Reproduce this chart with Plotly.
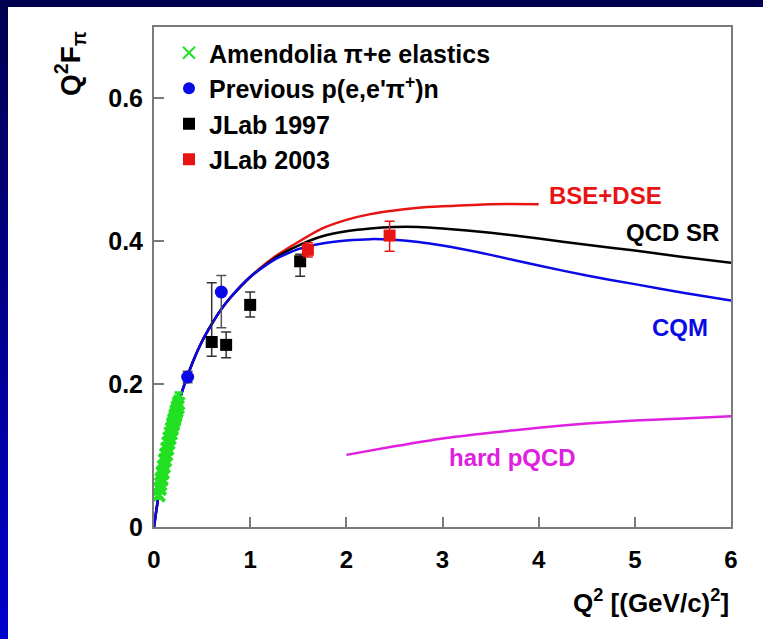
import plotly.graph_objects as go

# ---- data ----------------------------------------------------------------
# Amendolia pi+e elastic scattering
amend_q2 = [0.045, 0.051, 0.057, 0.063, 0.069, 0.075, 0.081, 0.087, 0.093, 0.099,
            0.105, 0.111, 0.117, 0.123, 0.129, 0.135, 0.141, 0.147, 0.153, 0.159,
            0.165, 0.171, 0.177, 0.183, 0.189, 0.195, 0.201, 0.207, 0.213, 0.219,
            0.225, 0.231, 0.237, 0.243, 0.249, 0.255]
amend_val = [0.044, 0.045, 0.053, 0.054, 0.060, 0.066, 0.068, 0.075, 0.077, 0.084,
             0.085, 0.093, 0.094, 0.101, 0.102, 0.109, 0.110, 0.117, 0.118, 0.124,
             0.125, 0.131, 0.131, 0.137, 0.138, 0.143, 0.145, 0.149, 0.151, 0.155,
             0.157, 0.161, 0.163, 0.167, 0.168, 0.173]
amend_err = [0.004, 0.004, 0.004, 0.005, 0.005, 0.005, 0.005, 0.006, 0.006, 0.006,
             0.006, 0.007, 0.007, 0.007, 0.008, 0.008, 0.008, 0.009, 0.009, 0.010,
             0.010, 0.010, 0.011, 0.011, 0.011, 0.012, 0.012, 0.012, 0.013, 0.013,
             0.013, 0.014, 0.014, 0.014, 0.015, 0.015]

# previous p(e,e'pi+)n
prev_q2 = [0.35, 0.70]
prev_val = [0.210, 0.329]
prev_err_up = [0.008, 0.023]
prev_err_dn = [0.008, 0.050]

# JLab 1997
jl97_q2 = [0.60, 0.75, 1.00, 1.52]
jl97_val = [0.259, 0.255, 0.311, 0.372]
jl97_err_up = [0.083, 0.018, 0.018, 0.010]
jl97_err_dn = [0.020, 0.018, 0.017, 0.021]

# JLab 2003
jl03_q2 = [1.60, 2.45]
jl03_val = [0.388, 0.408]
jl03_err_up = [0.010, 0.020]
jl03_err_dn = [0.010, 0.022]

# model curves
curve_q2 = [0, 0.025, 0.05, 0.1, 0.2, 0.3, 0.4, 0.5, 0.6, 0.7, 0.8, 1.0,
            1.25, 1.5, 1.75, 2.0, 2.25, 2.5, 2.75, 3.0, 3.5, 4.0, 4.5, 5.0, 5.5, 6.0]
cqm_val = [0, 0.024, 0.046, 0.084, 0.146, 0.193, 0.230, 0.260, 0.284, 0.305, 0.322, 0.350,
           0.374, 0.389, 0.397, 0.401, 0.403, 0.402, 0.399, 0.394, 0.381, 0.366, 0.352,
           0.340, 0.328, 0.317]
qcdsr_val = [0, 0.024, 0.046, 0.084, 0.146, 0.193, 0.230, 0.260, 0.284, 0.305, 0.322, 0.350,
             0.376, 0.394, 0.407, 0.414, 0.418, 0.420, 0.420, 0.418, 0.412, 0.404, 0.395,
             0.387, 0.378, 0.370]
bse_q2 = [0, 0.025, 0.05, 0.1, 0.2, 0.3, 0.4, 0.5, 0.6, 0.7, 0.8, 1.0,
          1.25, 1.5, 1.75, 2.0, 2.25, 2.5, 2.75, 3.0, 3.5, 4.0]
bse_val = [0, 0.024, 0.046, 0.084, 0.146, 0.193, 0.230, 0.260, 0.284, 0.305, 0.322, 0.350,
           0.378, 0.399, 0.418, 0.430, 0.438, 0.443, 0.447, 0.449, 0.452, 0.452]
pqcd_q2 = [2.0, 2.5, 3.0, 3.5, 4.0, 4.5, 5.0, 5.5, 6.0]
pqcd_val = [0.101, 0.113, 0.124, 0.132, 0.139, 0.145, 0.149, 0.152, 0.155]

x_ticks = [0, 1, 2, 3, 4, 5, 6]
x_ticktext = ["0", "1", "2", "3", "4", "5", "6"]
y_ticks = [0, 0.2, 0.4, 0.6]
y_ticktext = ["0", "0.2", "0.4", "0.6"]

# ---- styling ---------------------------------------------------------------
FONT = "Liberation Sans"
GREEN = "#22e022"
BLUE = "#0a0ae6"
RED = "#e81414"
MAGENTA = "#e020e0"
FRAME = "#7a7a7a"

W, H = 763, 639
ML, MR, MT, MB = 154, 32, 27, 112
PW, PH = W - ML - MR, H - MT - MB


def px(xp):
    return (xp - ML) / PW


def py(yp):
    return (H - MB - yp) / PH


fig = go.Figure()

# model curves (drawn first so the data sit on top)
fig.add_trace(go.Scatter(x=bse_q2, y=bse_val, mode="lines", showlegend=False,
                         line=dict(color=RED, width=2.5, shape="spline", smoothing=0.6)))
fig.add_trace(go.Scatter(x=curve_q2, y=qcdsr_val, mode="lines", showlegend=False,
                         line=dict(color="black", width=2.5, shape="spline", smoothing=0.6)))
fig.add_trace(go.Scatter(x=curve_q2, y=cqm_val, mode="lines", showlegend=False,
                         line=dict(color=BLUE, width=2.5, shape="spline", smoothing=0.6)))
fig.add_trace(go.Scatter(x=pqcd_q2, y=pqcd_val, mode="lines", showlegend=False,
                         line=dict(color=MAGENTA, width=2.5, shape="spline", smoothing=0.6)))

# data sets
fig.add_trace(go.Scatter(
    x=amend_q2, y=amend_val, mode="markers", name="Amendolia \u03c0+e elastics",
    marker=dict(symbol="x-thin", size=12, color=GREEN, line=dict(color=GREEN, width=3)),
    error_y=dict(type="data", array=amend_err, color=GREEN, thickness=3, width=4)))
fig.add_trace(go.Scatter(
    x=prev_q2, y=prev_val, mode="markers", name="Previous p(e,e'\u03c0<sup>+</sup>)n",
    marker=dict(symbol="circle", size=13, color=BLUE),
    error_y=dict(type="data", symmetric=False, array=prev_err_up, arrayminus=prev_err_dn,
                 color="#555555", thickness=1.5, width=5)))
fig.add_trace(go.Scatter(
    x=jl97_q2, y=jl97_val, mode="markers", name="JLab 1997",
    marker=dict(symbol="square", size=12, color="black"),
    error_y=dict(type="data", symmetric=False, array=jl97_err_up, arrayminus=jl97_err_dn,
                 color="#333333", thickness=1.5, width=5)))
fig.add_trace(go.Scatter(
    x=jl03_q2, y=jl03_val, mode="markers", name="JLab 2003",
    marker=dict(symbol="square", size=12, color=RED),
    error_y=dict(type="data", symmetric=False, array=jl03_err_up, arrayminus=jl03_err_dn,
                 color=RED, thickness=1.5, width=5)))

# frame background: dark top strip and a blue gradient strip on the left
shapes = [dict(type="rect", xref="paper", yref="paper", layer="below",
               x0=px(0), x1=px(W), y0=py(7), y1=py(0),
               fillcolor="rgb(0,0,80)", line=dict(width=0))]
n_steps = 40
for i in range(n_steps):
    y_top = i * H / n_steps
    y_bot = (i + 1) * H / n_steps
    b = int(80 + (205 - 80) * (i + 0.5) / n_steps)
    shapes.append(dict(type="rect", xref="paper", yref="paper", layer="below",
                       x0=px(0), x1=px(8), y0=py(y_bot + 0.5), y1=py(max(y_top - 0.5, 0)),
                       fillcolor=f"rgb(0,0,{b})", line=dict(width=0)))

annotations = [
    dict(x=4.70, y=0.4636, text="BSE+DSE", showarrow=False, xref="x", yref="y",
         font=dict(family=FONT, size=24, weight="bold", color=RED)),
    dict(x=5.39, y=0.413, text="QCD SR", showarrow=False, xref="x", yref="y",
         font=dict(family=FONT, size=24, weight="bold", color="black")),
    dict(x=5.47, y=0.280, text="CQM", showarrow=False, xref="x", yref="y",
         font=dict(family=FONT, size=24, weight="bold", color=BLUE)),
    dict(x=3.73, y=0.098, text="hard pQCD", showarrow=False, xref="x", yref="y",
         font=dict(family=FONT, size=24, weight="bold", color=MAGENTA)),
    dict(x=px(70), y=py(64), xref="paper", yref="paper", showarrow=False,
         xanchor="center", yanchor="middle",
         text="Q<sup>2</sup>F<sub>\u03c0</sub>", textangle=-90,
         font=dict(family=FONT, size=28, weight="bold", color="black")),
    dict(x=1.0, y=py(601), xref="paper", yref="paper", showarrow=False,
         xanchor="right", yanchor="middle",
         text="Q<sup>2</sup> [(GeV/c)<sup>2</sup>]",
         font=dict(family=FONT, size=26, weight="bold", color="black")),
]

fig.update_layout(
    width=W, height=H, autosize=False,
    margin=dict(l=ML, r=MR, t=MT, b=MB, pad=0),
    paper_bgcolor="white", plot_bgcolor="white",
    shapes=shapes, annotations=annotations,
    showlegend=True,
    legend=dict(x=px(169), y=py(30), xanchor="left", yanchor="top",
                bgcolor="rgba(0,0,0,0)", borderwidth=0,
                font=dict(family=FONT, size=25, weight="bold", color="black"),
                itemsizing="constant", tracegroupgap=0),
    xaxis=dict(range=[0, 6], tickvals=x_ticks, ticktext=x_ticktext,
               showgrid=False, zeroline=False, showline=True, mirror=True,
               linecolor=FRAME, linewidth=2, ticks="inside", ticklen=10,
               tickcolor=FRAME, tickwidth=1.5, ticklabelstandoff=10,
               tickfont=dict(family=FONT, size=24, weight="bold", color="black")),
    yaxis=dict(range=[0, 0.70], tickvals=y_ticks, ticktext=y_ticktext,
               showgrid=False, zeroline=False, showline=True, mirror=True,
               linecolor=FRAME, linewidth=2, ticks="inside", ticklen=10,
               tickcolor=FRAME, tickwidth=1.5, ticklabelstandoff=4,
               tickfont=dict(family=FONT, size=25, weight="bold", color="black")),
)

fig.write_html("out.html")
